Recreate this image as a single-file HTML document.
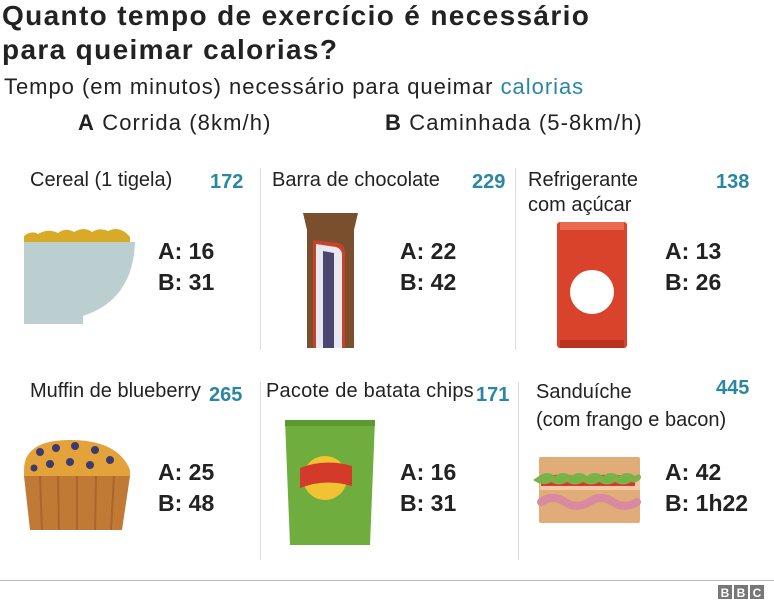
<!DOCTYPE html>
<html><head><style>
body{margin:0;width:774px;height:605px;background:#fff;font-family:"Liberation Sans",Arial,sans-serif;color:#222;position:relative;overflow:hidden}
.a{position:absolute;white-space:nowrap}
.t{font-weight:bold;font-size:28px;left:2px;letter-spacing:1.35px}
.lab{font-size:20px}
.n{font-size:20px;font-weight:bold;color:#2a87a3}
.v{font-size:23px;font-weight:bold;line-height:31px}
.vl{position:absolute;width:1px;background:#ddd}
</style></head><body>
<div class="a t" style="top:0px">Quanto tempo de exercício é necessário</div>
<div class="a t" style="top:34px">para queimar calorias?</div>
<div class="a" style="top:74px;left:4px;font-size:22px;letter-spacing:0.97px">Tempo (em minutos) necessário para queimar <span style="color:#2a87a3">calorias</span></div>
<div class="a" style="top:110px;left:78px;font-size:22px;letter-spacing:1.1px"><b>A</b> Corrida (8km/h)</div>
<div class="a" style="top:110px;left:385px;font-size:22px;letter-spacing:1.1px"><b>B</b> Caminhada (5-8km/h)</div>

<div class="vl" style="left:260px;top:168px;height:182px"></div>
<div class="vl" style="left:515px;top:168px;height:182px"></div>
<div class="vl" style="left:260px;top:382px;height:178px"></div>
<div class="vl" style="left:518px;top:382px;height:178px"></div>
<div style="position:absolute;left:0;top:580px;width:774px;height:1px;background:#bbb"></div>

<div class="a lab" style="left:30px;top:169px">Cereal (1 tigela)</div>
<div class="a n" style="left:210px;top:171px">172</div>
<div class="a lab" style="left:272px;top:169px">Barra de chocolate</div>
<div class="a n" style="left:472px;top:171px">229</div>
<div class="a lab" style="left:528px;top:168px;line-height:25px">Refrigerante<br>com açúcar</div>
<div class="a n" style="left:716px;top:171px">138</div>

<div class="a lab" style="left:30px;top:380px">Muffin de blueberry</div>
<div class="a n" style="left:209px;top:384px">265</div>
<div class="a lab" style="left:266px;top:380px;letter-spacing:0.2px">Pacote de batata chips</div>
<div class="a n" style="left:476px;top:384px">171</div>
<div class="a lab" style="left:536px;top:378px;line-height:28px">Sanduíche<br>(com frango e bacon)</div>
<div class="a n" style="left:716px;top:377px">445</div>

<div class="a v" style="left:158px;top:236px">A: 16<br>B: 31</div>
<div class="a v" style="left:400px;top:236px">A: 22<br>B: 42</div>
<div class="a v" style="left:665px;top:236px">A: 13<br>B: 26</div>
<div class="a v" style="left:158px;top:457px">A: 25<br>B: 48</div>
<div class="a v" style="left:400px;top:457px">A: 16<br>B: 31</div>
<div class="a v" style="left:665px;top:457px">A: 42<br>B: 1h22</div>

<svg class="a" style="left:0;top:0" width="774" height="605">
<path d="M24 236 q8-6 14-2 q10-6 20-1 q8-6 16-1 q10-6 18 0 q8-5 16-1 q12-6 22 6 v6 H24z" fill="#d9a928"/>
<path d="M24 242 H135 Q133 300 83 316 V324 H24z" fill="#bccfd0"/>
<path d="M303 213 H358 L354 230 V348 H307 V230z" fill="#7a4f2e"/>
<path d="M313 240 L338 243 Q345 245 345 252 V348 H313z" fill="#c8412a"/>
<path d="M316 244 L336 247 Q342 249 342 255 V348 H316z" fill="#e8e8f0"/>
<path d="M323 251 L334 253 V348 H323z" fill="#4a4670"/>
<rect x="557" y="222" width="70" height="126" rx="3" fill="#d9432b"/>
<rect x="560" y="222" width="64" height="8" fill="#e86a50"/>
<rect x="560" y="340" width="64" height="8" fill="#b8341f"/>
<circle cx="592" cy="292" r="22" fill="#fff"/>
<path d="M24 470 Q24 440 70 440 Q118 440 130 470 V476 H24z" fill="#e3a33a"/>
<path d="M24 476 H130 L122 530 H30z" fill="#c07a35"/>
<g stroke="#a9652b" stroke-width="2"><line x1="40" y1="476" x2="42" y2="530"/><line x1="58" y1="476" x2="59" y2="530"/><line x1="77" y1="476" x2="77" y2="530"/><line x1="96" y1="476" x2="95" y2="530"/><line x1="114" y1="476" x2="111" y2="530"/></g>
<g fill="#3d3a70"><circle cx="40" cy="452" r="4"/><circle cx="56" cy="448" r="4"/><circle cx="75" cy="446" r="4"/><circle cx="95" cy="450" r="4"/><circle cx="50" cy="464" r="4"/><circle cx="70" cy="462" r="4"/><circle cx="90" cy="465" r="4"/><circle cx="110" cy="460" r="4"/><circle cx="34" cy="468" r="3.5"/></g>
<path d="M285 420 H375 L370 545 H290z" fill="#6fae3e"/>
<rect x="285" y="420" width="90" height="6" fill="#5a9a30"/>
<circle cx="325" cy="478" r="22" fill="#f1c232"/>
<path d="M300 468 Q325 458 352 466 V486 Q325 478 300 488z" fill="#d33a2a"/>
<rect x="539" y="457" width="101" height="66" rx="2" fill="#e0ac78"/>
<rect x="540" y="480" width="100" height="10" fill="#f2c8a8"/>
<path d="M541 479 Q560 470 585 479 Q610 470 635 479 V486 H541z" fill="#d33a2a"/>
<path d="M539 476 q8-6 16 0 q8-6 16 0 q8-6 16 0 q8-6 16 0 q8-6 16 0 q8-6 16 0 q6-4 6 2 q-4 6 -10 4 q-8 5-16 0 q-8 5-16 0 q-8 5-16 0 q-8 5-16 0 q-8 5-16 0 q-8 5-18 -2z" fill="#7ab24a"/>
<path d="M541 502 q12-8 24 0 t24 0 t24 0 t24 0" stroke="#d98aa0" stroke-width="8" fill="none" stroke-linecap="round"/>
<g fill="#777"><rect x="718" y="585" width="14" height="14"/><rect x="734" y="585" width="14" height="14"/><rect x="750" y="585" width="14" height="14"/></g>
<g fill="#fff" font-family="Liberation Sans" font-weight="bold" font-size="12" text-anchor="middle"><text x="725" y="597">B</text><text x="741" y="597">B</text><text x="757" y="597">C</text></g>
</svg>
</body></html>
